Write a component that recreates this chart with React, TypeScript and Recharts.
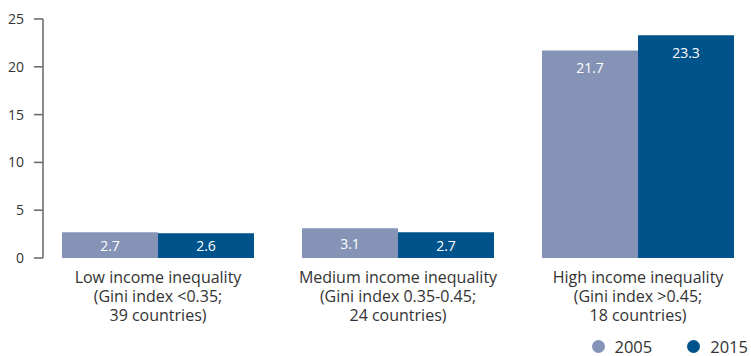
import { BarChart, Bar, XAxis, YAxis, Legend, LabelList } from 'recharts'

const categories = [
  'Low income inequality\n(Gini index <0.35;\n39 countries)',
  'Medium income inequality\n(Gini index 0.35-0.45;\n24 countries)',
  'High income inequality\n(Gini index >0.45;\n18 countries)',
]
const values2005 = [2.7, 3.1, 21.7]
const values2015 = [2.6, 2.7, 23.3]
const yTicks = [0, 5, 10, 15, 20, 25]

const series = [
  { key: 'y2005', name: '2005', color: '#8594b6' },
  { key: 'y2015', name: '2015', color: '#00538a' },
]

const data = categories.map((c, i) => ({
  name: c,
  y2005: values2005[i],
  y2015: values2015[i],
}))

const FONT = '"Open Sans", "Noto Sans", sans-serif'
const TEXT = '#333333'

// multi-line category label under each group
function CategoryTick({ x, y, payload }: any) {
  const lines = String(payload.value).split('\n')
  return (
    <text x={x} y={y} textAnchor="middle" fill={TEXT} fontSize={16} fontFamily={FONT}>
      {lines.map((l, i) => (
        <tspan key={i} x={x} dy={i === 0 ? 17 : 19}>
          {l}
        </tspan>
      ))}
    </text>
  )
}

function BarValue({ x, y, width, height, value }: any) {
  const dy = Math.min(17, height / 2)
  return (
    <text
      x={x + width / 2}
      y={y + dy}
      textAnchor="middle"
      dominantBaseline="central"
      fill="#ffffff"
      fontSize={14}
      fontFamily={FONT}
    >
      {value}
    </text>
  )
}

function LegendBox() {
  return (
    <div style={{ display: 'flex', justifyContent: 'flex-end', alignItems: 'center', height: 20, paddingRight: 3, fontFamily: FONT, fontSize: 16.5, color: TEXT }}>
      {series.map((s, i) => (
        <div key={s.key} style={{ display: 'flex', alignItems: 'center', marginLeft: i === 0 ? 0 : 35 }}>
          <span style={{ width: 13, height: 13, borderRadius: '50%', background: s.color, marginRight: 10, display: 'inline-block' }} />
          <span>{s.name}</span>
        </div>
      ))}
    </div>
  )
}

export default function App() {
  return (
    <div style={{ position: 'absolute', left: 0, top: 0, background: '#fff' }}>
      <BarChart
        width={751}
        height={356}
        data={data}
        margin={{ top: 19, right: 0, bottom: 0, left: 0 }}
        barGap={0}
        barSize={96}
      >
        <XAxis
          dataKey="name"
          axisLine={false}
          tickLine={false}
          height={78}
          padding={{ left: -5, right: -7 }}
          tick={<CategoryTick />}
          interval={0}
        />
        <YAxis
          width={43}
          domain={[0, 25]}
          ticks={yTicks}
          tickSize={9}
          tickMargin={10}
          axisLine={{ stroke: '#666666', strokeWidth: 1.5 }}
          tickLine={{ stroke: '#666666', strokeWidth: 1.5 }}
          tick={{ fill: TEXT, fontSize: 14, fontFamily: FONT }}
        />
        <Legend verticalAlign="bottom" align="right" height={20} content={<LegendBox />} />
        {series.map((s) => (
          <Bar key={s.key} dataKey={s.key} name={s.name} fill={s.color} isAnimationActive={false}>
            <LabelList dataKey={s.key} content={<BarValue />} />
          </Bar>
        ))}
      </BarChart>
    </div>
  )
}
